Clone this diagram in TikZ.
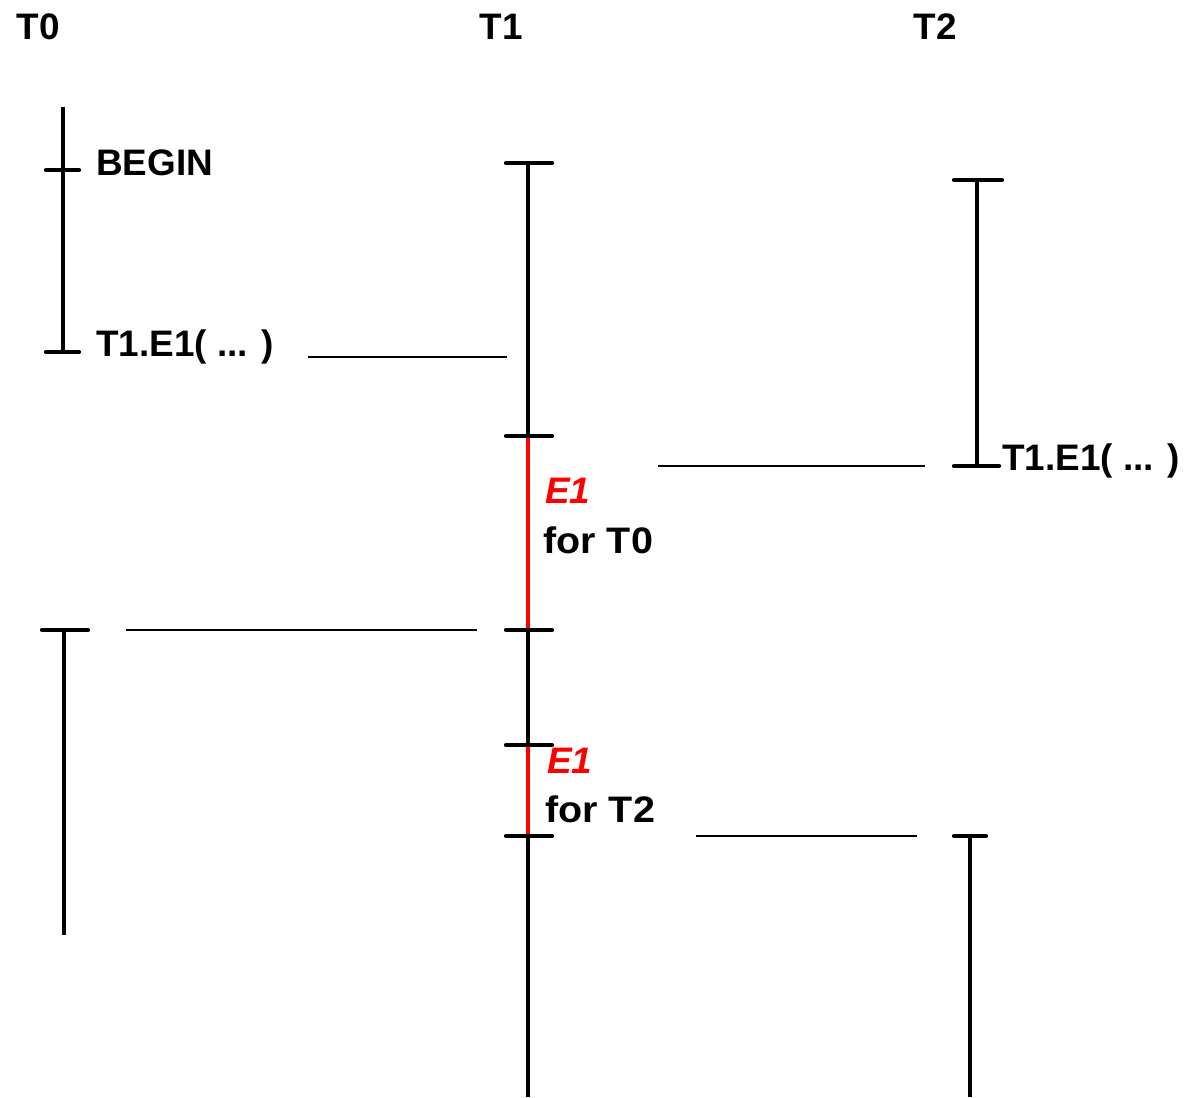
\documentclass[tikz,border=0pt]{standalone}
\usepackage{fontspec}
\setmainfont{Liberation Sans}
\usetikzlibrary{positioning}
\definecolor{evred}{RGB}{255,0,0}

\begin{document}
\begin{tikzpicture}[x=0.02cm, y=-0.02cm,
    life/.style={line width=2pt},
    tickmark/.style={line width=2.4pt, line cap=round},
    msg/.style={line width=1.2pt},
    txt/.style={anchor=west, inner sep=0pt, font=\fontsize{21}{25}\selectfont\bfseries},
    evt/.style={txt, text=evred, font=\fontsize{21}{25}\selectfont\bfseries\itshape},
    note/.style={txt, xscale=1.07}
]
    \useasboundingbox (0,0) rectangle (1186,1098);

    % Thread titles
    \node[txt, anchor=center] (t0) at (38,27) {T0};
    \node[txt, anchor=center] (t1) at (501,27) {T1};
    \node[txt, anchor=center] (t2) at (935,27) {T2};

    % T0 timeline
    \coordinate (a0) at (63,107);
    \coordinate (a1) at (63,170);
    \coordinate (a2) at (63,352);
    \draw[life] (a0) -- (a2);
    \draw[tickmark] (46,170) -- (79,170);
    \draw[tickmark] (46,352) -- (79,352);
    \node[txt] (begin) at (96,163) {BEGIN};
    \node[txt] (call0) at (96,347) {T1.E1( ... )};

    \coordinate (a3) at (64,630);
    \coordinate (a4) at (64,935);
    \draw[life] (a3) -- (a4);
    \draw[tickmark] (42,630) -- (88,630);

    % T1 timeline
    \coordinate (b0) at (528,163);
    \coordinate (b1) at (528,436);
    \coordinate (b2) at (528,630);
    \coordinate (b3) at (528,745);
    \coordinate (b4) at (528,836);
    \coordinate (b5) at (528,1097);
    \draw[life] (b0) -- (b1);
    \draw[life, evred] (b1) -- (b2);
    \draw[life] (b2) -- (b3);
    \draw[life, evred] (b3) -- (b4);
    \draw[life] (b4) -- (b5);
    \foreach \y in {163,436,630,745,836}
        \draw[tickmark] (506,\y) -- (552,\y);
    \node[evt] (e1a) at (545,491) {E1};
    \node[note] (for0) at (543,540) {for T0};
    \node[evt] (e1b) at (547,761) {E1};
    \node[note] (for2) at (545,809) {for T2};

    % T2 timeline
    \coordinate (c0) at (977,180);
    \coordinate (c1) at (977,466);
    \draw[life] (c0) -- (c1);
    \draw[tickmark] (954,180) -- (1002,180);
    \draw[tickmark] (954,466) -- (999,466);
    \node[txt] (call2) at (1002,461) {T1.E1( ... )};

    \coordinate (c2) at (970,836);
    \coordinate (c3) at (970,1097);
    \draw[life] (c2) -- (c3);
    \draw[tickmark] (954,836) -- (986,836);

    % Messages between threads
    \coordinate (m1a) at (308,357);
    \coordinate (m1b) at (507,357);
    \draw[msg] (m1a) -- (m1b);
    \coordinate (m2a) at (658,466);
    \coordinate (m2b) at (925,466);
    \draw[msg] (m2a) -- (m2b);
    \coordinate (m3a) at (126,630);
    \coordinate (m3b) at (477,630);
    \draw[msg] (m3a) -- (m3b);
    \coordinate (m4a) at (696,836);
    \coordinate (m4b) at (917,836);
    \draw[msg] (m4a) -- (m4b);
\end{tikzpicture}
\end{document}
